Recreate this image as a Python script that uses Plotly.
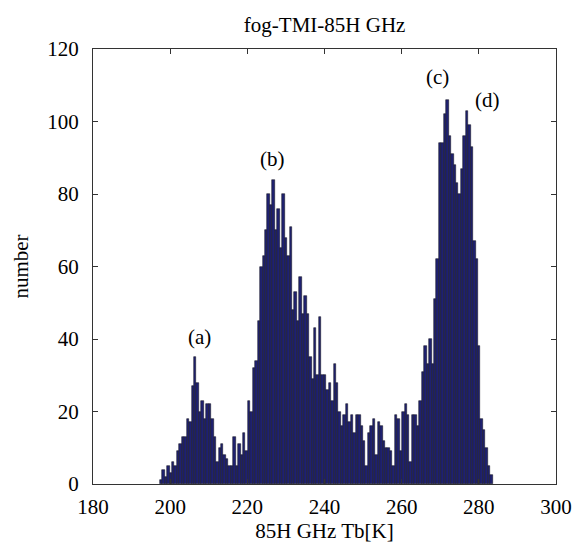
import plotly.graph_objects as go

# histogram of 85H GHz brightness temperature (fog, TMI)
bin_start = 197.3
bin_end = 283.6
counts = (
    [1, 4, 2, 5, 3, 6, 5, 9]
    + [11, 13, 13, 18, 17, 27, 35, 28, 20, 23, 18, 22, 22, 18, 13, 6, 10, 11, 8, 7,
       5, 5, 13, 5, 11, 8, 14, 9, 23, 20, 32, 34]
    + [45, 60, 63, 70, 80, 77, 84, 70, 76]
    + [65, 80, 68, 63, 71, 48, 53, 45, 57, 47, 52, 47, 35, 29, 43, 30, 46, 30, 30, 26,
       28, 23, 33, 28, 20, 16, 19, 22, 17, 19, 14, 19, 19, 16, 12]
    + [5, 14, 16, 18, 8, 17, 16, 12, 10, 10, 9, 5, 19, 18, 9, 20, 22, 19, 6, 19,
       19, 16, 23, 31, 38, 33, 40, 33, 51, 62, 94, 94, 102, 106, 96, 91, 88, 83, 80, 87,
       96, 103, 99, 93, 67, 62, 38, 18, 15, 10, 5, 2.5]
)
bin_width = (bin_end - bin_start) / len(counts)
centers = [bin_start + (i + 0.5) * bin_width for i in range(len(counts))]

labels = ["(a)", "(b)", "(c)", "(d)"]
label_x = [207.5, 226.4, 269.4, 282.3]
label_y = [40.5, 89.6, 112.3, 105.8]

x_ticks = [180, 200, 220, 240, 260, 280, 300]
y_ticks = [0, 20, 40, 60, 80, 100, 120]

font = "Liberation Serif"
fs = 21

fig = go.Figure()
fig.add_trace(go.Bar(
    x=centers, y=counts, width=bin_width,
    marker=dict(color="#1f2170", line=dict(color="rgba(20,20,30,0.9)", width=0.6)),
    showlegend=False,
))

for t, xx, yy in zip(labels, label_x, label_y):
    fig.add_annotation(x=xx, y=yy, text=t, showarrow=False,
                       font=dict(family=font, size=fs, color="black"))

fig.update_layout(
    template="none",
    width=573, height=550,
    margin=dict(l=93, r=17, t=49, b=66, autoexpand=False),
    paper_bgcolor="white", plot_bgcolor="white",
    bargap=0,
    title=dict(text="fog-TMI-85H GHz", x=0.5665, xanchor="center", y=0.955, yanchor="middle",
               font=dict(family=font, size=fs, color="black")),
    font=dict(family=font, size=fs, color="black"),
)
fig.update_xaxes(range=[180, 300], tickvals=x_ticks, ticks="inside", ticklen=5,
                 tickcolor="#333", showline=True, linecolor="#333", linewidth=1, mirror="ticks",
                 showgrid=False, zeroline=False, automargin=False, ticklabelstandoff=4,
                 tickfont=dict(family=font, size=fs, color="black"),
                 title=dict(text="85H GHz Tb[K]", font=dict(family=font, size=fs, color="black"),
                            standoff=4))
fig.update_yaxes(range=[0, 120], tickvals=y_ticks, ticks="inside", ticklen=5,
                 tickcolor="#333", showline=True, linecolor="#333", linewidth=1, mirror="ticks",
                 showgrid=False, zeroline=False, automargin=False, ticklabelstandoff=9,
                 tickfont=dict(family=font, size=fs, color="black"),
                 title=dict(text="number", font=dict(family=font, size=fs, color="black"),
                            standoff=12))

fig.write_html("out.html")
